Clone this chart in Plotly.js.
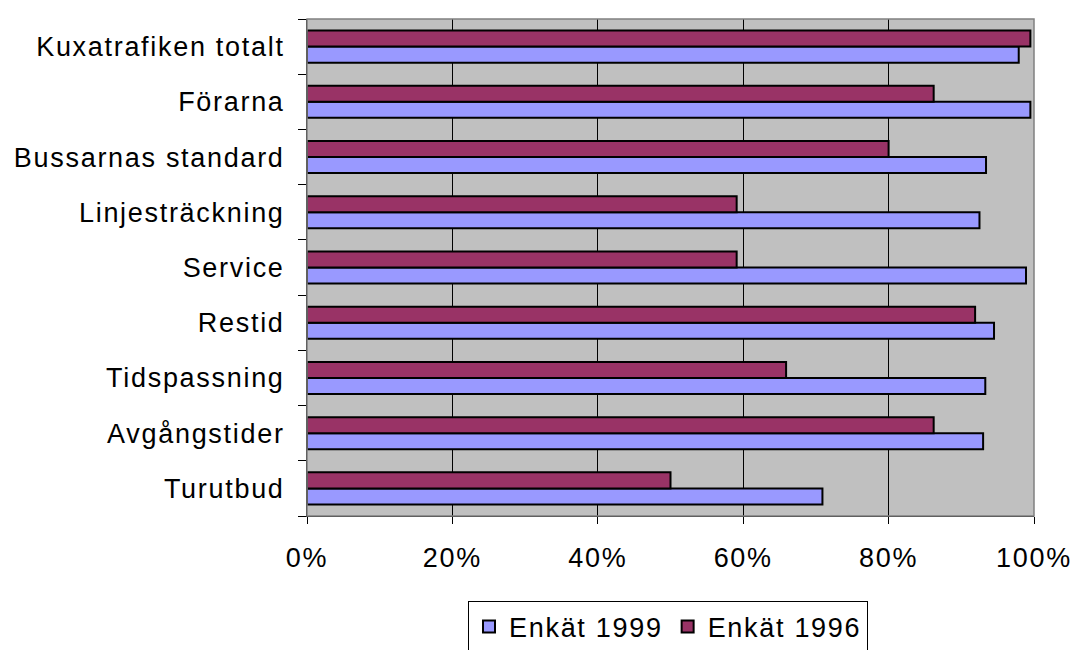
<!DOCTYPE html>
<html>
<head>
<meta charset="utf-8">
<script src="https://cdn.plot.ly/plotly-3.0.1.min.js"></script>
<style>
html,body{margin:0;padding:0;background:#fff;}
#chart{width:1073px;height:650px;}
text{letter-spacing:1.7px;}
</style>
</head>
<body>
<div id="chart"></div>
<script>
const categories = ["Kuxatrafiken totalt","Förarna","Bussarnas standard","Linjesträckning","Service","Restid","Tidspassning","Avgångstider","Turutbud"];
const enkat1999 = [0.979, 0.995, 0.934, 0.925, 0.989, 0.945, 0.933, 0.930, 0.709];
const enkat1996 = [0.995, 0.862, 0.800, 0.591, 0.591, 0.919, 0.659, 0.862, 0.500];
const xTickVals = [0, 0.2, 0.4, 0.6, 0.8, 1.0];
const xTickText = ["0%","20%","40%","60%","80%","100%"];

const font = {family: "Liberation Sans, Arial, sans-serif", size: 27, color: "#000"};

const traces = [
  {type: "bar", orientation: "h", name: "Enkät 1999", y: categories, x: enkat1999,
   marker: {color: "#9999FF", line: {color: "#000", width: 2}}},
  {type: "bar", orientation: "h", name: "Enkät 1996", y: categories, x: enkat1996,
   marker: {color: "#993366", line: {color: "#000", width: 2}}}
];

const layout = {
  width: 1073, height: 650,
  margin: {l: 307, r: 39, t: 19, b: 134, autoexpand: false},
  paper_bgcolor: "#fff",
  plot_bgcolor: "#C0C0C0",
  barmode: "group",
  bargap: 0.42,
  bargroupgap: 0,
  font: font,
  showlegend: true,
  legend: {orientation: "h", x: 0.4966, xanchor: "center", y: -0.172, yanchor: "top",
           bgcolor: "#fff", bordercolor: "#000", borderwidth: 1, font: font,
           itemwidth: 30, tracegroupgap: 0},
  xaxis: {range: [0, 1], tickvals: xTickVals, ticktext: xTickText,
          showgrid: true, gridcolor: "#000", gridwidth: 1,
          ticks: "outside", ticklen: 7, tickcolor: "#000",
          showline: true, linecolor: "#000", linewidth: 1,
          zeroline: false, fixedrange: true, ticklabelstandoff: 11, tickfont: font},
  yaxis: {type: "category", categoryorder: "array", categoryarray: categories.slice().reverse(),
          tickson: "boundaries", ticks: "outside", ticklen: 8, tickcolor: "#000",
          showline: true, linecolor: "#000", linewidth: 1, showgrid: false,
          ticklabelstandoff: 16, tickfont: font, fixedrange: true},
  shapes: [{type: "rect", xref: "paper", yref: "paper", x0: 0, x1: 1, y0: 0, y1: 1,
            line: {color: "#808080", width: 1.5}, layer: "above"}]
};

Plotly.newPlot("chart", traces, layout, {displayModeBar: false, staticPlot: true});
</script>
</body>
</html>
